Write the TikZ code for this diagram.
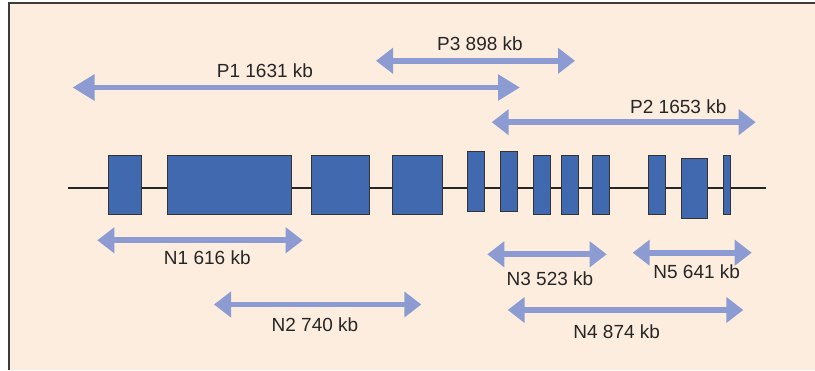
\documentclass[tikz,border=0pt]{standalone}
\usepackage{fontspec}
\setmainfont{Liberation Sans}
\usetikzlibrary{arrows.meta}
\definecolor{bgpeach}{RGB}{253,237,223}
\definecolor{arrowblue}{RGB}{140,156,210}
\definecolor{exonblue}{RGB}{65,105,175}
\definecolor{framegray}{RGB}{60,60,60}
\tikzset{
  dblarrow/.style={draw=arrowblue, line width=5.8pt,
    {Triangle[length=17pt,width=25pt]}-{Triangle[length=17pt,width=25pt]}},
  bigarrow/.style={draw=arrowblue, line width=5.8pt,
    {Triangle[length=22pt,width=25pt]}-{Triangle[length=22pt,width=25pt]}},
  lbl/.style={inner sep=0pt, font=\fontsize{19}{22}\selectfont, text=black!85},
  exon/.style={draw=black!80, fill=exonblue, line width=1pt, inner sep=0pt},
  backbone/.style={draw=black!85, line width=1.6pt}
}
\begin{document}
\begin{tikzpicture}[x=1pt,y=-1pt]
\useasboundingbox (0,0) rectangle (815,370);
% background frame
\fill[bgpeach] (9,3) rectangle (815,370);
\draw[framegray, line width=1.2pt] (9,370) -- (9,3) -- (815,3);
% backbone
\coordinate (bbL) at (68,188);
\coordinate (bbR) at (766,188);
\draw[backbone] (bbL) -- (bbR);
% exons
\node[exon, minimum width=33pt, minimum height=59pt] (e1) at (125.2,184.7) {};
\node[exon, minimum width=124.4pt, minimum height=59pt] (e2) at (229.5,184.7) {};
\node[exon, minimum width=58pt, minimum height=59pt] (e3) at (340,184.7) {};
\node[exon, minimum width=50pt, minimum height=59pt] (e4) at (417,184.7) {};
\node[exon, minimum width=17pt, minimum height=59.6pt] (e5) at (476.2,181.5) {};
\node[exon, minimum width=17pt, minimum height=59.6pt] (e6) at (509.2,181.5) {};
\node[exon, minimum width=17pt, minimum height=59pt] (e7) at (541.8,184.7) {};
\node[exon, minimum width=17pt, minimum height=59pt] (e8) at (570.2,184.7) {};
\node[exon, minimum width=16.7pt, minimum height=59pt] (e9) at (600.7,184.7) {};
\node[exon, minimum width=17pt, minimum height=59pt] (e10) at (656.8,184.7) {};
\node[exon, minimum width=26pt, minimum height=59.6pt] (e11) at (694.3,188.5) {};
\node[exon, minimum width=7.4pt, minimum height=59pt] (e12) at (727,184.7) {};
% arrows above
\coordinate (p1a) at (72.5,87.5);
\coordinate (p1b) at (520,87.5);
\draw[bigarrow] (p1a) -- (p1b);
\node[lbl] (p1) at (265,70.5) {P1 1631 kb};
\coordinate (p3a) at (376,60.8);
\coordinate (p3b) at (575,60.8);
\draw[dblarrow] (p3a) -- (p3b);
\node[lbl] (p3) at (480,43.3) {P3 898 kb};
\coordinate (p2a) at (491.7,122.2);
\coordinate (p2b) at (755.7,122.2);
\draw[dblarrow] (p2a) -- (p2b);
\node[lbl] (p2) at (678.3,106.7) {P2 1653 kb};
% arrows below
\coordinate (n1a) at (97.3,240.3);
\coordinate (n1b) at (302.7,240.3);
\draw[dblarrow] (n1a) -- (n1b);
\node[lbl] (n1) at (207.3,258) {N1 616 kb};
\coordinate (n2a) at (214,304.5);
\coordinate (n2b) at (421.3,304.5);
\draw[dblarrow] (n2a) -- (n2b);
\node[lbl] (n2) at (315,325) {N2 740 kb};
\coordinate (n3a) at (487.3,254.3);
\coordinate (n3b) at (606.7,254.3);
\draw[dblarrow] (n3a) -- (n3b);
\node[lbl] (n3) at (550,278.3) {N3 523 kb};
\coordinate (n5a) at (632.7,252.7);
\coordinate (n5b) at (751.7,252.7);
\draw[dblarrow] (n5a) -- (n5b);
\node[lbl] (n5) at (696.7,271.7) {N5 641 kb};
\coordinate (n4a) at (507.7,310);
\coordinate (n4b) at (743.3,310);
\draw[dblarrow] (n4a) -- (n4b);
\node[lbl] (n4) at (616.7,331.7) {N4 874 kb};
\end{tikzpicture}
\end{document}
